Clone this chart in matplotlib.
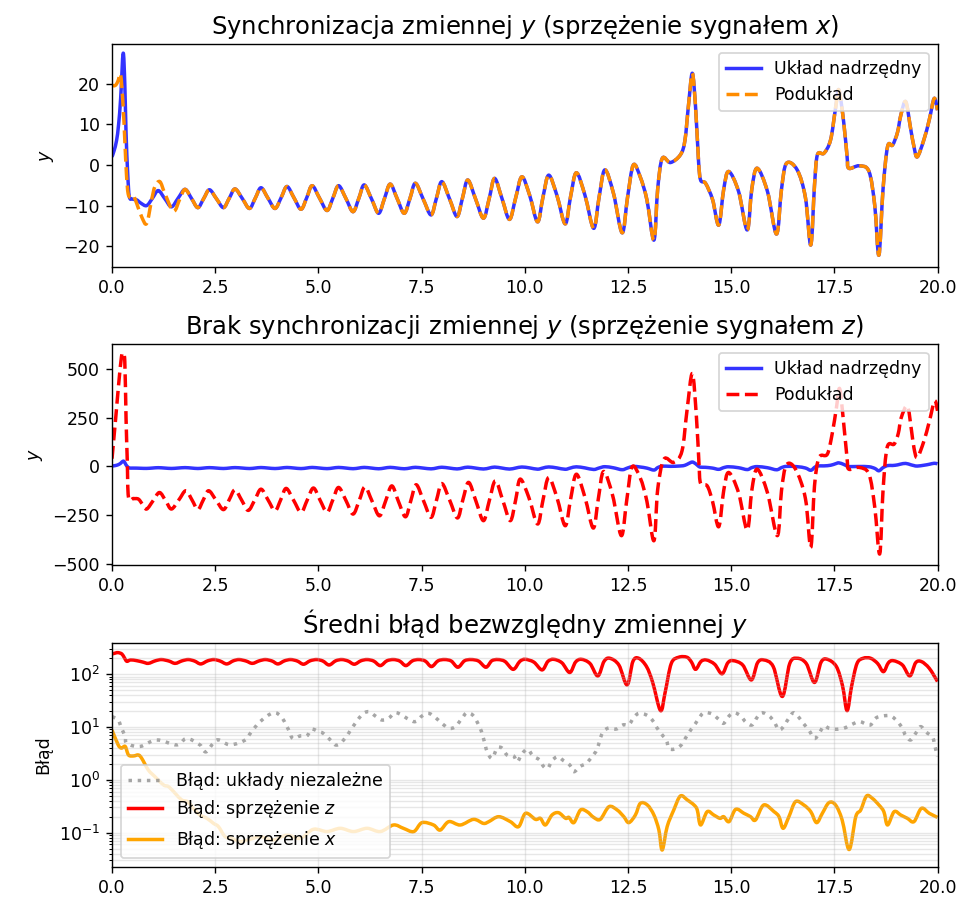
import matplotlib
matplotlib.use("Agg")
import matplotlib.pyplot as plt
from matplotlib.path import Path
from matplotlib.patches import PathPatch
from matplotlib.lines import Line2D
import numpy as np

# ---------------- data ----------------
# master system y(t)
master_t = [0.00, 0.05, 0.11, 0.16, 0.21, 0.27, 0.31, 0.34, 0.38, 0.42, 0.50, 0.60, 0.70, 0.84, 0.98,
            1.12, 1.28, 1.44, 1.60, 1.77, 1.93, 2.08, 2.22, 2.36, 2.53, 2.70, 2.84, 2.98, 3.16, 3.33,
            3.47, 3.61, 3.78, 3.95, 4.10, 4.24, 4.41, 4.58, 4.72, 4.85, 5.03, 5.21, 5.35, 5.49, 5.67,
            5.84, 5.98, 6.11, 6.29, 6.46, 6.60, 6.74, 6.91, 7.08, 7.22, 7.35, 7.54, 7.73, 7.86, 7.99,
            8.18, 8.36, 8.49, 8.62, 8.81, 9.00, 9.14, 9.27, 9.45, 9.63, 9.78, 9.93, 10.12, 10.31, 10.44,
            10.58, 10.78, 10.98, 11.11, 11.25, 11.46, 11.67, 11.80, 11.94, 12.15, 12.36, 12.49, 12.63,
            12.80, 12.96, 13.13, 13.22, 13.33, 13.53, 13.77, 13.88, 13.97, 14.06, 14.14, 14.21, 14.26,
            14.38, 14.55, 14.70, 14.82, 14.94, 15.18, 15.39, 15.50, 15.63, 15.88, 16.10, 16.22, 16.34,
            16.60, 16.80, 16.93, 17.02, 17.09, 17.25, 17.41, 17.53, 17.61, 17.73, 17.81, 17.85, 18.10,
            18.34, 18.48, 18.58, 18.68, 18.79, 18.91, 19.03, 19.11, 19.23, 19.35, 19.43, 19.51, 19.67,
            19.80, 19.92, 20.00]
master_y = [2.0, 3.5, 6.0, 10.0, 16.5, 27.5, 20.0, 8.0, -2.0, -7.8, -8.4, -8.6, -9.4, -10.0, -8.2,
            -6.3, -8.3, -10.3, -8.2, -6.0, -8.3, -10.5, -8.3, -6.1, -8.3, -10.5, -8.2, -5.9, -8.3, -10.7,
            -8.2, -5.6, -8.2, -10.7, -8.0, -5.3, -8.1, -10.9, -8.0, -5.1, -8.2, -11.2, -8.2, -5.1, -8.3,
            -11.5, -8.2, -4.9, -8.4, -11.9, -8.3, -4.7, -8.3, -11.9, -8.2, -4.5, -8.4, -12.3, -8.2, -4.1,
            -8.4, -12.7, -8.2, -3.7, -8.4, -13.1, -8.2, -3.3, -8.3, -13.4, -8.1, -2.9, -7.5, -14.0, -8.0,
            -2.5, -7.5, -14.5, -7.8, -1.9, -7.5, -15.6, -8.0, -1.2, -7.0, -16.7, -8.0, 0.0,
            -3.0, -8.6, -18.5, -6.0, 1.6, 0.6, 2.5, 6.0, 15.0, 22.6, 14.0, 1.0, -3.7,
            -4.5, -8.5, -14.8, -6.0, -1.6, -6.5, -16.0, -6.0, -0.8, -6.5, -17.0, -6.0, 0.4,
            -1.2, -8.0, -19.7, -5.0, 2.5, 2.9, 6.2, 14.0, 18.5, 10.3, 2.0, -0.8, -0.2,
            -1.6, -10.0, -22.2, -6.0, 4.5, 4.9, 8.0, 12.2, 15.6, 8.9, 4.5, 2.0, 6.2,
            11.1, 16.4, 13.5]

# subsystem y, coupling through x (transient, then identical to master)
slave_x_t_start = [0.00, 0.05, 0.10, 0.15, 0.21, 0.27, 0.31, 0.35, 0.39, 0.45, 0.52, 0.60, 0.72, 0.84,
                   0.96, 1.04, 1.16, 1.28, 1.49, 1.65]
slave_x_y_start = [19.7, 19.5, 19.8, 20.8, 22.2, 14.4, 6.2, -2.2, -7.0, -8.0, -7.6, -9.5, -12.8, -14.4,
                   -8.6, -5.3, -4.1, -7.0, -11.4, -8.2]
sync_from = master_t.index(1.77)
slave_x_t = slave_x_t_start + master_t[sync_from:]
slave_x_y = slave_x_y_start + master_y[sync_from:]

# subsystem y, coupling through z
slave_z_t = [0.00, 0.09, 0.16, 0.23, 0.27, 0.31, 0.34, 0.37, 0.40, 0.52, 0.64, 0.74, 0.84, 1.00, 1.15,
             1.30, 1.44, 1.62, 1.79, 1.94, 2.08, 2.21, 2.34, 2.52, 2.70, 2.84, 2.98, 3.14, 3.30, 3.46,
             3.61, 3.78, 3.95, 4.09, 4.22, 4.40, 4.58, 4.73, 4.88, 5.04, 5.21, 5.35, 5.49, 5.67, 5.84,
             5.99, 6.13, 6.30, 6.48, 6.63, 6.78, 6.94, 7.11, 7.24, 7.37, 7.55, 7.73, 7.86, 7.99, 8.18,
             8.37, 8.50, 8.64, 8.82, 9.00, 9.14, 9.29, 9.47, 9.65, 9.78, 9.89, 10.10, 10.31, 10.44, 10.58,
             10.78, 10.98, 11.11, 11.25, 11.46, 11.66, 11.78, 11.91, 12.13, 12.34, 12.47, 12.60, 12.80,
             12.96, 13.13, 13.22, 13.37, 13.61, 13.81, 13.93, 14.06, 14.16, 14.22, 14.26, 14.42, 14.55,
             14.70, 14.82, 14.94, 15.18, 15.39, 15.50, 15.63, 15.88, 16.12, 16.22, 16.34, 16.56, 16.80,
             16.93, 17.02, 17.13, 17.33, 17.45, 17.55, 17.63, 17.73, 17.81, 17.85, 18.10, 18.34, 18.48,
             18.60, 18.68, 18.78, 18.95, 19.05, 19.12, 19.27, 19.37, 19.43, 19.51, 19.67, 19.80, 19.93,
             20.00]
slave_z_y = [40, 250, 420, 565, 580, 540, 250, 30, -159, -165, -168, -195, -219, -175, -134,
             -176, -219, -172, -125, -173, -222, -173, -125, -173, -222, -171, -120, -173, -226, -172,
             -117, -172, -228, -170, -113, -174, -236, -173, -111, -173, -236, -172, -108, -176, -245,
             -175, -105, -178, -254, -177, -100, -180, -259, -176, -94, -178, -262, -175, -88, -173,
             -265, -172, -82, -180, -279, -177, -74, -176, -279, -172, -65, -160, -296, -175, -57,
             -160, -305, -170, -40, -160, -317, -170, -26, -150, -356, -175, -2, -60,
             -180, -382, -120, 37, 21, 80, 286, 478, 252, 20, -87, -100, -180,
             -310, -125, -31, -135, -327, -125, -14, -135, -356, -125, 8, -14, -165,
             -416, -100, 46, 63, 170, 300, 400, 215, 40, -14, -5, -40, -210,
             -450, -125, 98, 115, 170, 250, 311, 185, 95, 46, 130, 230, 337,
             286]

# mean absolute error of y
err_indep_t = [0.00, 0.15, 0.23, 0.32, 0.36, 0.68, 1.08, 1.57, 1.81, 2.13, 2.28, 2.54, 2.86, 3.23, 3.35,
               3.59, 3.91, 4.11, 4.28, 4.38, 4.56, 4.72, 4.84, 5.00, 5.12, 5.29, 5.41, 5.53, 5.69, 5.81,
               6.05, 6.22, 6.38, 6.54, 6.70, 6.86, 7.02, 7.19, 7.35, 7.51, 7.67, 7.83, 7.99, 8.16, 8.32,
               8.48, 8.60, 8.76, 8.92, 9.00, 9.09, 9.21, 9.33, 9.45, 9.57, 9.73, 9.82, 9.93, 10.07, 10.20,
               10.36, 10.46, 10.56, 10.66, 10.80, 10.94, 11.09, 11.19, 11.33, 11.49, 11.63, 11.75, 11.87,
               12.01, 12.22, 12.38, 12.52, 12.63, 12.76, 12.95, 13.09, 13.21, 13.33, 13.43, 13.49, 13.61,
               13.77, 13.89, 14.02, 14.14, 14.22, 14.34, 14.54, 14.70, 14.82, 14.95, 15.08, 15.23, 15.37,
               15.51, 15.63, 15.75, 15.92, 16.04, 16.16, 16.28, 16.38, 16.51, 16.64, 16.76, 16.89, 17.02,
               17.13, 17.25, 17.37, 17.53, 17.73, 17.90, 18.10, 18.26, 18.38, 18.50, 18.66, 18.87, 19.03,
               19.15, 19.23, 19.35, 19.47, 19.59, 19.71, 19.88, 19.93, 20.00]
err_indep = [15.8, 13.6, 9.5, 6.6, 4.9, 4.3, 5.7, 4.6, 6.1, 4.6, 3.4, 5.7, 4.6, 5.7, 7.6,
             12.7, 18.7, 15.3, 8.8, 6.1, 6.8, 6.8, 9.1, 8.2, 7.6, 5.7, 4.6, 4.9, 6.8, 9.5,
             16.9, 19.6, 16.2, 13.6, 14.7, 18.7, 16.9, 14.0, 12.7, 16.2, 18.2, 15.3, 11.8, 9.5, 10.2,
             14.7, 18.7, 16.2, 9.5, 6.1, 3.4, 2.56, 4.0, 4.0, 2.96, 2.84, 2.2, 3.1, 3.8, 2.84,
             2.38, 1.78, 1.66, 2.31, 2.75, 2.31, 1.92, 1.43, 1.78, 2.06, 2.75, 3.8, 7.4,
             9.5, 9.2, 11.0, 11.0, 14.7, 18.2, 16.9, 13.6, 9.5, 7.1, 5.7, 4.0, 3.8,
             4.4, 6.1, 8.8, 11.8, 14.7, 18.7, 17.7, 14.0, 11.8, 16.2, 18.7, 16.2, 12.1,
             11.0, 15.3, 18.7, 16.2, 12.7, 8.8, 10.5, 14.0, 18.7, 15.3, 11.5, 8.6, 6.1,
             7.6, 10.5, 9.5, 9.1, 9.5, 11.0, 12.7, 11.5, 11.0, 14.7, 16.2, 16.2, 12.7,
             9.5, 6.8, 5.7, 7.6, 10.2, 8.2, 6.4, 4.6, 2.75]

err_z_t = [0.00, 0.08, 0.15, 0.24, 0.30, 0.36, 0.45, 0.60, 0.75, 0.88, 1.05, 1.20, 1.38, 1.53, 1.70,
           1.85, 2.00, 2.15, 2.32, 2.47, 2.62, 2.78, 2.94, 3.08, 3.25, 3.40, 3.57, 3.72, 3.88, 4.02,
           4.18, 4.33, 4.49, 4.64, 4.80, 4.96, 5.11, 5.26, 5.42, 5.57, 5.72, 5.87, 6.03, 6.18, 6.34,
           6.50, 6.66, 6.82, 6.97, 7.12, 7.28, 7.43, 7.59, 7.74, 7.90, 8.06, 8.22, 8.38, 8.54, 8.70,
           8.88, 9.06, 9.20, 9.35, 9.52, 9.72, 9.88, 10.01, 10.22, 10.42, 10.56, 10.70, 10.90, 11.09,
           11.23, 11.37, 11.58, 11.77, 11.92, 12.06, 12.28, 12.48, 12.62, 12.76, 12.95, 13.10, 13.29,
           13.40, 13.55, 13.73, 13.93, 14.04, 14.14, 14.27, 14.40, 14.60, 14.78, 14.92, 15.05, 15.28,
           15.49, 15.64, 15.79, 16.02, 16.24, 16.42, 16.60, 16.82, 17.02, 17.18, 17.33, 17.55, 17.70,
           17.81, 17.92, 18.05, 18.20, 18.38, 18.55, 18.69, 18.81, 18.93, 19.15, 19.33, 19.47, 19.61,
           19.80, 20.00]
err_z = [242, 252, 257, 242, 205, 176, 187, 181, 170, 161, 180, 190, 178, 161, 180,
         190, 178, 157, 180, 190, 178, 157, 180, 190, 178, 161, 180, 190, 178, 157,
         180, 190, 178, 155, 180, 190, 178, 150, 180, 190, 178, 155, 180, 190, 178,
         146, 180, 190, 178, 146, 180, 190, 178, 140, 180, 190, 178, 136, 180, 190,
         178, 136, 180, 190, 175, 124, 175, 192, 170, 121, 175, 192, 165, 108,
         170, 192, 160, 93, 175, 201, 150, 63, 175, 201, 140, 70, 20.5,
         45, 160, 210, 210, 170, 124, 175, 187, 155, 102, 165, 181, 150,
         78, 165, 187, 140, 38, 160, 201, 160, 70, 170, 192, 140, 60,
         20.5, 60, 160, 201, 201, 160, 112, 165, 181, 150, 93, 165, 174,
         130, 73]

err_x_t = [0.00, 0.15, 0.23, 0.32, 0.40, 0.52, 0.64, 0.72, 0.88, 1.04, 1.25, 1.37, 1.53, 1.69, 1.83,
           1.97, 2.13, 2.30, 2.46, 2.58, 2.74, 2.90, 3.10, 3.35, 3.59, 3.91, 4.24, 4.56, 4.88, 5.21,
           5.53, 5.85, 6.18, 6.50, 6.82, 7.06, 7.31, 7.51, 7.79, 7.95, 8.16, 8.44, 8.76, 9.00, 9.13,
           9.37, 9.65, 9.85, 10.02, 10.26, 10.38, 10.50, 10.66, 10.82, 10.99, 11.07, 11.19, 11.35,
           11.51, 11.67, 11.83, 12.04, 12.24, 12.40, 12.52, 12.68, 12.80, 12.97, 13.13, 13.25, 13.33,
           13.45, 13.61, 13.77, 13.94, 14.10, 14.18, 14.26, 14.42, 14.58, 14.73, 14.82, 14.95, 15.11,
           15.31, 15.47, 15.59, 15.79, 16.04, 16.16, 16.26, 16.40, 16.56, 16.76, 16.93, 17.07, 17.21,
           17.37, 17.53, 17.69, 17.86, 18.02, 18.14, 18.28, 18.42, 18.58, 18.70, 18.79, 18.95, 19.11,
           19.27, 19.43, 19.61, 19.80, 20.00]
err_x = [8.8, 4.6, 4.0, 4.3, 2.96, 2.84, 2.96, 2.56, 1.54, 1.15, 0.80, 0.745, 0.557, 0.416, 0.387,
         0.289, 0.216, 0.187, 0.150, 0.130, 0.084, 0.078, 0.068, 0.075, 0.084, 0.073, 0.090, 0.078,
         0.116, 0.105, 0.121, 0.105, 0.121, 0.105, 0.140, 0.121, 0.105, 0.155, 0.140, 0.112, 0.162,
         0.140, 0.179, 0.150, 0.162, 0.201, 0.162, 0.130, 0.233, 0.179, 0.187, 0.140, 0.216, 0.239,
         0.187, 0.195, 0.155, 0.269, 0.250, 0.195, 0.179, 0.311, 0.269, 0.201, 0.155, 0.216, 0.360,
         0.335, 0.216, 0.112, 0.047, 0.130, 0.269, 0.495, 0.416, 0.335, 0.269, 0.140, 0.250, 0.216,
         0.187, 0.201, 0.162, 0.277, 0.233, 0.201, 0.174, 0.335, 0.250, 0.201, 0.121, 0.201, 0.387,
         0.335, 0.250, 0.155, 0.233, 0.371, 0.335, 0.174, 0.048, 0.201, 0.269, 0.495, 0.448, 0.335,
         0.250, 0.140, 0.250, 0.216, 0.187, 0.162, 0.289, 0.233, 0.195]

x_ticks = [0.0, 2.5, 5.0, 7.5, 10.0, 12.5, 15.0, 17.5, 20.0]
mid_ticks = [-500, -250, 0, 250, 500]


# ---------------- helpers ----------------
def smooth_line(ax, t, v, log=False, **kw):
    """Draw the read points as one smooth (Catmull-Rom style) curve through them."""
    t = np.asarray(t, float)
    v = np.asarray(v, float)
    y = np.log10(v) if log else v
    P = np.column_stack([t, y])
    E = np.vstack([P[0], P, P[-1]])
    verts = [P[0]]
    codes = [Path.MOVETO]
    for i in range(len(P) - 1):
        p0, p1, p2, p3 = E[i], E[i + 1], E[i + 2], E[i + 3]
        c1 = p1 + (p2 - p0) / 6.0
        c2 = p2 - (p3 - p1) / 6.0
        verts += [c1, c2, p2]
        codes += [Path.CURVE4] * 3
    verts = np.array(verts)
    if log:
        verts[:, 1] = 10 ** verts[:, 1]
    patch = PathPatch(Path(verts, codes), fill=False, joinstyle='round', capstyle='butt',
                      transform=ax.transData, **kw)
    ax.add_patch(patch)
    return patch


def handle(**kw):
    return Line2D([], [], **kw)


# ---------------- figure ----------------
DPI = 125
fig = plt.figure(figsize=(964 / DPI, 903 / DPI), dpi=DPI)
W, H = 964, 903


def box(l, t, r, b):
    return [l / W, 1 - b / H, (r - l) / W, (b - t) / H]


ax1 = fig.add_axes(box(112, 44, 937.5, 266.5))
ax2 = fig.add_axes(box(112, 344, 937.5, 565))
ax3 = fig.add_axes(box(112, 643.3, 937.5, 866.7))

blue_kw = dict(color='blue', alpha=0.8, lw=2)

# top
smooth_line(ax1, master_t, master_y, edgecolor='blue', alpha=0.8, lw=2)
smooth_line(ax1, slave_x_t, slave_x_y, edgecolor='darkorange', lw=2, linestyle='--')
ax1.set_xlim(0, 20)
ax1.set_ylim(-25.0, 29.8)
ax1.set_xticks(x_ticks)
ax1.set_ylabel('$y$')
ax1.set_title('Synchronizacja zmiennej $y$ (sprzężenie sygnałem $x$)', fontsize=14)
ax1.legend(handles=[handle(label='Układ nadrzędny', **blue_kw),
                    handle(label='Podukład', color='darkorange', lw=2, ls='--')],
           loc='upper right')

# middle
smooth_line(ax2, master_t, master_y, edgecolor='blue', alpha=0.8, lw=2)
smooth_line(ax2, slave_z_t, slave_z_y, edgecolor='red', lw=2, linestyle='--')
ax2.set_xlim(0, 20)
ax2.set_ylim(-507, 630)
ax2.set_xticks(x_ticks)
ax2.set_yticks(mid_ticks)
ax2.set_ylabel('$y$')
ax2.set_title('Brak synchronizacji zmiennej $y$ (sprzężenie sygnałem $z$)', fontsize=14)
ax2.legend(handles=[handle(label='Układ nadrzędny', **blue_kw),
                    handle(label='Podukład', color='red', lw=2, ls='--')],
           loc='upper right')

# bottom
ax3.set_yscale('log')
smooth_line(ax3, err_indep_t, err_indep, log=True, edgecolor='gray', lw=2, linestyle=':', alpha=0.7)
smooth_line(ax3, err_z_t, err_z, log=True, edgecolor='red', lw=2)
smooth_line(ax3, err_x_t, err_x, log=True, edgecolor='orange', lw=2)
ax3.set_xlim(0, 20)
ax3.set_ylim(0.0227, 386)
ax3.set_xticks(x_ticks)
ax3.set_ylabel('Błąd')
ax3.set_title('Średni błąd bezwzględny zmiennej $y$', fontsize=14)
ax3.grid(True, which='both', alpha=0.3)
ax3.legend(handles=[handle(label='Błąd: układy niezależne', color='gray', lw=2, ls=':', alpha=0.7),
                    handle(label='Błąd: sprzężenie $z$', color='red', lw=2),
                    handle(label='Błąd: sprzężenie $x$', color='orange', lw=2)],
           loc='lower left')

fig.savefig('out.png', dpi=DPI)
